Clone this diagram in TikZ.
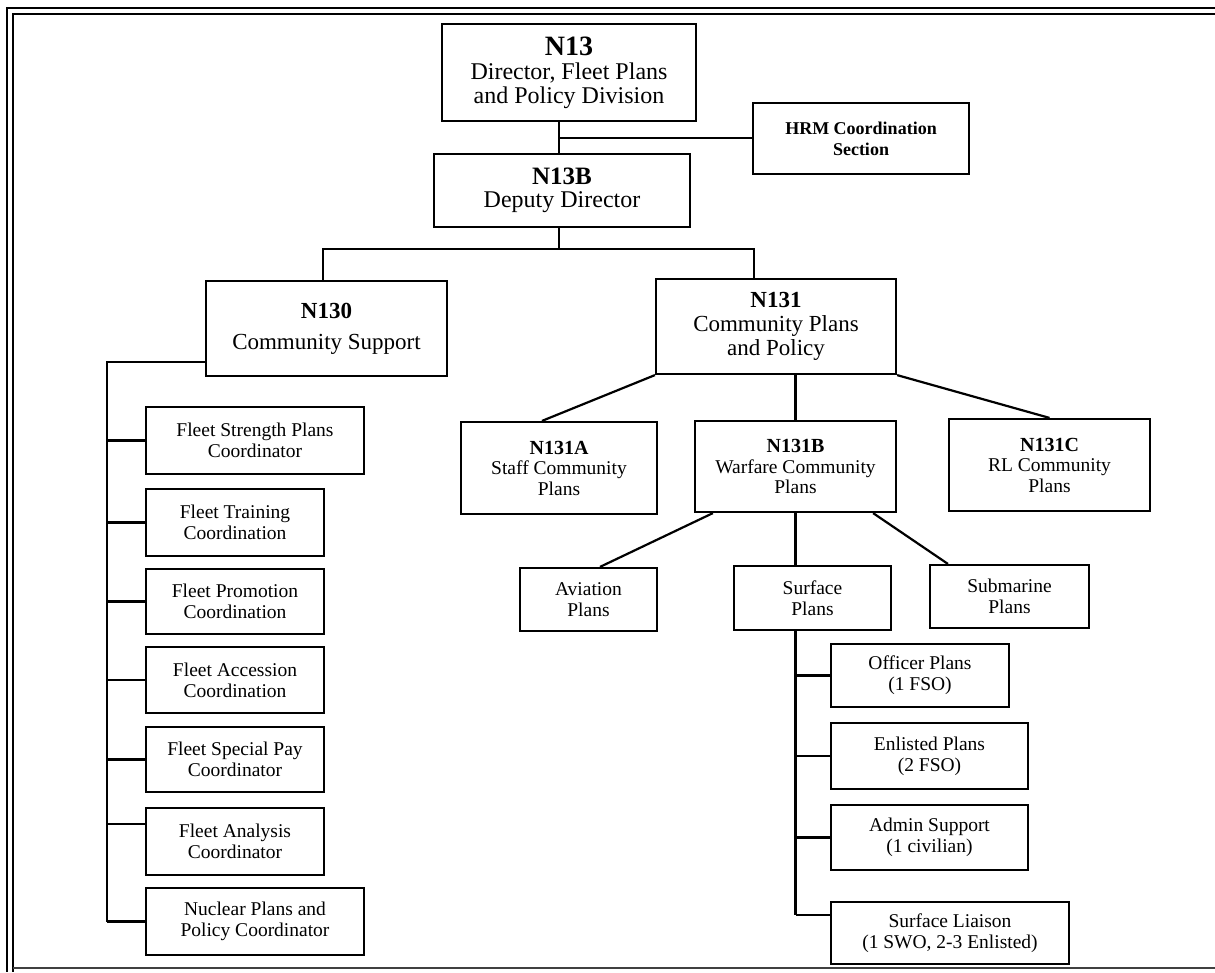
\documentclass[tikz,border=0pt]{standalone}
\usepackage{fontspec}
\setmainfont{Liberation Serif}
\newcommand{\fsz}[2]{\fontsize{#1}{#2}\selectfont}
\tikzset{
  box/.style={draw, line width=2.2pt, align=center, inner sep=0pt, font=\fsz{19.5}{21}},
  conn/.style={line width=2.2pt},
  frameline/.style={line width=2.8pt},
}
\begin{document}
\begin{tikzpicture}[x=1pt, y=-1pt]
\useasboundingbox (0,0) rectangle (1215,972);
% frame
\draw[frameline] (1215,8) -- (7,8) -- (7,972);
\draw[frameline] (1215,14) -- (13,14) -- (13,972);
\draw[line width=1.5pt, black!75] (13,968) -- (1215,968);

% top levels
\node[box, minimum width=254pt, minimum height=97pt, font=\fsz{24}{24}] (N13) at (569,72.5)
  {{\fsz{28}{28}\bfseries N13}\\Director, Fleet Plans\\and Policy Division};
\node[box, minimum width=216pt, minimum height=71pt, font=\fsz{18}{21}\bfseries] (HRM) at (861,138.5)
  {HRM Coordination\\Section};
\node[box, minimum width=256pt, minimum height=73pt, font=\fsz{24}{23}] (N13B) at (562,190.5)
  {{\fsz{25}{25}\bfseries N13B}\\Deputy Director};
\node[box, minimum width=241pt, minimum height=95pt, font=\fsz{23}{23}] (N130) at (326.5,328.5)
  {\textbf{N130}\\[8pt]Community Support};
\node[box, minimum width=240pt, minimum height=95pt, font=\fsz{23}{24}] (N131) at (776,326.5)
  {\textbf{N131}\\Community Plans\\and Policy};

% N131 branch
\node[box, minimum width=196pt, minimum height=92pt, font=\fsz{19.5}{20.5}] (N131A) at (559,468)
  {{\fsz{20}{20.5}\bfseries N131A}\\Staff Community\\Plans};
\node[box, minimum width=201pt, minimum height=91pt, font=\fsz{19.5}{20.5}] (N131B) at (795.5,466.5)
  {{\fsz{20}{20.5}\bfseries N131B}\\Warfare Community\\Plans};
\node[box, minimum width=201pt, minimum height=92pt, font=\fsz{19.5}{20.5}] (N131C) at (1049.5,465)
  {{\fsz{20}{20.5}\bfseries N131C}\\RL Community\\Plans};
\node[box, minimum width=137pt, minimum height=63pt] (Av) at (588.5,599.5) {Aviation\\Plans};
\node[box, minimum width=157pt, minimum height=64pt] (Sf) at (812.5,598) {Surface\\Plans};
\node[box, minimum width=159pt, minimum height=63pt] (Sb) at (1009.5,596.5) {Submarine\\Plans};
\node[box, minimum width=178pt, minimum height=63pt] (Of) at (920,675.5) {Officer Plans\\(1 FSO)};
\node[box, minimum width=197pt, minimum height=66pt] (En) at (929.5,756) {Enlisted Plans\\(2 FSO)};
\node[box, minimum width=197pt, minimum height=65pt] (Ad) at (929.5,837.5) {Admin Support\\(1 civilian)};
\node[box, minimum width=238pt, minimum height=62pt] (Li) at (950,933) {Surface Liaison\\(1 SWO, 2-3 Enlisted)};

% N130 branch
\node[box, minimum width=218pt, minimum height=67pt] (FS) at (255,440.5) {Fleet Strength Plans\\Coordinator};
\node[box, minimum width=178pt, minimum height=67pt] (FT) at (235,522.5) {Fleet Training\\Coordination};
\node[box, minimum width=178pt, minimum height=65pt] (FP) at (235,601.5) {Fleet Promotion\\Coordination};
\node[box, minimum width=178pt, minimum height=66pt] (FA) at (235,680) {Fleet Accession\\Coordination};
\node[box, minimum width=178pt, minimum height=65pt] (FSP) at (235,759.5) {Fleet Special Pay\\Coordinator};
\node[box, minimum width=178pt, minimum height=67pt] (FAn) at (235,841.5) {Fleet Analysis\\Coordinator};
\node[box, minimum width=218pt, minimum height=67pt] (FN) at (255,921.5) {Nuclear Plans and\\Policy Coordinator};

% connectors top
\coordinate (j1) at (559,138);
\draw[conn] (N13.south -| j1) -- (N13B.north -| j1);
\draw[conn] (j1) -- (HRM.west |- j1);
\coordinate (j2) at (559,249);
\coordinate (jL) at (323,249);
\coordinate (jR) at (754,249);
\draw[conn] (N13B.south -| j2) -- (j2);
\draw[conn] (N130.north -| jL) -- (jL) -- (jR) -- (N131.north -| jR);

% left spine
\coordinate (s0) at (107,362);
\coordinate (FAnc) at ([yshift=17.5pt]FAn.west);
\draw[conn] (N130.west |- s0) -- (s0) -- (s0 |- FN.west);
\foreach \b in {FS,FT,FP,FA,FSP,FN}
  \draw[conn] (s0 |- \b.west) -- (\b.west);
\draw[conn] (s0 |- FAnc) -- (FAnc);

% N131 connectors
\draw[conn] (N131.south west) -- ([xshift=-17pt]N131A.north);
\draw[conn] (N131.south -| N131B.north) -- (N131B.north);
\draw[conn] (N131.south east) -- (N131C.north);
\draw[conn] ([xshift=19pt]N131B.south west) -- ([xshift=11.5pt]Av.north);
\draw[conn] (N131B.south) -- (N131B.south |- Sf.north);
\draw[conn] ([xshift=-24pt]N131B.south east) -- ([xshift=19pt]Sb.north west);

% surface spine
\coordinate (sp) at (Sf.south -| N131B.south);
\coordinate (Lic) at ([yshift=18pt]Li.west);
\draw[conn] (sp) -- (sp |- Lic);
\foreach \b in {Of,En,Ad}
  \draw[conn] (sp |- \b.west) -- (\b.west);
\draw[conn] (sp |- Lic) -- (Lic);
\end{tikzpicture}
\end{document}
